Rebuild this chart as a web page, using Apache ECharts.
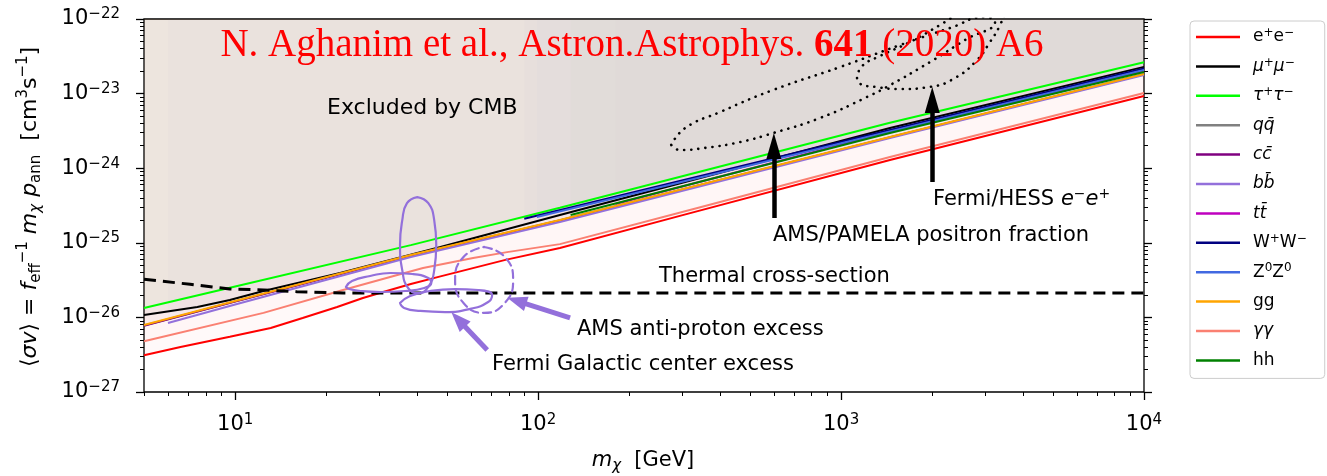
<!DOCTYPE html>
<html>
<head>
<meta charset="utf-8">
<script src="https://cdn.jsdelivr.net/npm/echarts@6/dist/echarts.min.js"></script>
<style>
  html, body { margin: 0; padding: 0; background: #ffffff; }
  #chart { width: 1327px; height: 476px; }
</style>
</head>
<body>
<div id="chart"></div>
<script>
// ---- annihilation channels: dark-matter mass [GeV] and <sigma v> [cm^3 s^-1] ----
const eeMass  = [5, 6.6, 9.6, 13.1, 16.7, 21.7, 26.4, 30.8, 38, 47.6, 78, 118, 300, 1450, 10000];
const eeSv    = [3.1e-27, 4.0e-27, 5.5e-27, 7.2e-27, 9.8e-27, 1.38e-26, 1.82e-26, 2.19e-26, 2.8e-26, 3.55e-26, 5.9e-26, 8.5e-26, 2.35e-25, 1.29e-24, 9.3e-24];
const mumuMass = [5, 7.5, 9.6, 12.4, 22.2, 47.6, 118, 1450, 10000];
const mumuSv   = [1.08e-26, 1.38e-26, 1.71e-26, 2.26e-26, 3.94e-26, 8.8e-26, 2.36e-25, 3.46e-24, 2.28e-23];
const tautauMass = [5, 10, 38, 118, 1450, 10000];
const tautauSv   = [1.34e-26, 2.6e-26, 9.3e-26, 2.95e-25, 4.07e-24, 2.63e-23];
const qqMass = [5, 10, 38, 118, 1450, 10000];
const qqSv   = [7.8e-27, 1.64e-26, 6.8e-26, 2.0e-25, 2.6e-24, 1.82e-23];
const ccMass = [5, 10, 38, 118, 1450, 10000];
const ccSv   = [7.7e-27, 1.63e-26, 6.7e-26, 1.99e-25, 2.59e-24, 1.81e-23];
const bbMass = [6, 10, 38, 118, 1450, 10000];
const bbSv   = [8.4e-27, 1.49e-26, 6.45e-26, 1.9e-25, 2.54e-24, 1.77e-23];
const ttMass = [180, 1450, 10000];
const ttSv   = [3.31e-25, 3.06e-24, 2.0e-23];
const wwMass = [90, 1450, 10000];
const wwSv   = [2.1e-25, 3.25e-24, 2.17e-23];
const zzMass = [99, 1450, 10000];
const zzSv   = [2.22e-25, 3.1e-24, 2.07e-23];
const gluMass = [5, 10, 38, 118, 1450, 10000];
const gluSv   = [7.9e-27, 1.66e-26, 6.85e-26, 2.02e-25, 2.62e-24, 1.83e-23];
const gamMass = [5, 12.4, 22.7, 34.3, 41.7, 61, 79, 118, 343, 1450, 10000];
const gamSv   = [4.8e-27, 1.15e-26, 2.33e-26, 3.7e-26, 4.6e-26, 6.25e-26, 7.5e-26, 9.6e-26, 3.0e-25, 1.41e-24, 1.02e-23];
const hhMass = [128, 1450, 10000];
const hhSv   = [2.36e-25, 2.96e-24, 1.95e-23];

// ---- thermal relic cross-section ----
const thermalMass = [5, 7.1, 9.6, 12.4, 16, 22.7, 40, 100, 1000, 10000];
const thermalSv   = [3.24e-26, 2.78e-26, 2.4e-26, 2.33e-26, 2.21e-26, 2.12e-26, 2.12e-26, 2.12e-26, 2.12e-26, 2.12e-26];

// ---- signal regions [mass, <sigma v>] ----
const amsPamelaContour = [
  [275, 2.05e-24], [306, 3.46e-24], [399, 5.67e-24], [597, 1.12e-23], [992, 2.27e-23],
  [1566, 4.48e-23], [2289, 7.57e-23], [2987, 1.06e-22], [3223, 9.1e-23], [2566, 5.23e-23],
  [1966, 2.65e-23], [1451, 1.3e-23], [1218, 9.0e-24], [852, 4.71e-24], [597, 2.96e-24],
  [464, 2.24e-24], [356, 1.87e-24], [294, 1.75e-24], [275, 2.05e-24]
];
const fermiHessContour = [
  [1129, 1.62e-23], [1173, 2.34e-23], [1345, 3.19e-23], [1689, 4.92e-23], [2122, 8.31e-23],
  [2566, 1.32e-22], [3223, 1.8e-22], [3477, 1.32e-22], [3348, 8.31e-23], [3102, 4.92e-23],
  [2811, 2.82e-23], [2378, 1.62e-23], [1966, 1.23e-23], [1566, 1.15e-23], [1295, 1.23e-23],
  [1155, 1.35e-23], [1129, 1.62e-23]
];
const gceTall = [
  [39.9, 4.1e-25], [43.4, 3.4e-25], [45.4, 2.0e-25], [46.1, 9.4e-26], [45.4, 4.3e-26],
  [43.4, 2.56e-26], [40.2, 2.12e-26], [37.2, 2.48e-26], [35.6, 4.3e-26], [35.0, 9.4e-26],
  [35.6, 2.0e-25], [36.9, 3.4e-25], [39.9, 4.1e-25]
];
const gceWide = [
  [23.2, 2.56e-26], [24.3, 3.08e-26], [27.9, 3.59e-26], [32.5, 3.94e-26], [38.4, 3.82e-26],
  [43.4, 3.37e-26], [44.4, 2.89e-26], [42.1, 2.48e-26], [36.4, 2.26e-26], [30.1, 2.19e-26],
  [25.9, 2.26e-26], [23.8, 2.4e-26], [23.2, 2.56e-26]
];
const gceLow = [
  [35.0, 1.56e-26], [37.8, 1.94e-26], [44.0, 2.26e-26], [53.2, 2.4e-26], [63.4, 2.33e-26],
  [70.5, 2.0e-26], [68.4, 1.61e-26], [59.7, 1.3e-26], [49.3, 1.18e-26], [40.8, 1.22e-26],
  [36.1, 1.34e-26], [35.0, 1.56e-26]
];
const antiprotonContour = [
  [66.3, 8.79e-26], [77.5, 6.51e-26], [82.7, 3.17e-26], [77.5, 1.55e-26], [66.3, 1.15e-26],
  [56.8, 1.55e-26], [53.2, 3.17e-26], [56.8, 6.51e-26], [66.3, 8.79e-26]
];

// ---- arrows: [from, to] in [mass, <sigma v>] ----
const blackArrows = [
  [[600, 2.15e-25], [600, 1.99e-24]],
  [[2000, 6.53e-25], [2000, 8.2e-24]]
];
const purpleArrows = [
  [[127.5, 9.82e-27], [85.0, 1.67e-26]],
  [[67.9, 3.66e-27], [54.5, 9.37e-27]]
];

// ---- axis ticks ----
const xMajorTicks = [10, 100, 1000, 10000];
const yMajorTicks = [1e-27, 1e-26, 1e-25, 1e-24, 1e-23, 1e-22];
const minorMantissas = [2, 3, 4, 5, 6, 7, 8, 9];
const xRange = [5, 10000];
const yRange = [1e-27, 1e-22];

const FONT = "'DejaVu Sans', sans-serif";
const SERIF = "'Liberation Serif', 'DejaVu Serif', serif";

// both axes are logarithmic: values are placed on the axes by their log10
const lg = Math.log10;
function pairs(ms, vs) { return ms.map((m, i) => [lg(m), lg(vs[i])]); }
function logPts(pts) { return pts.map(p => [lg(p[0]), lg(p[1])]); }
function minorTicks(decades, lo, hi) {
  const out = [];
  decades.forEach(d => minorMantissas.forEach(k => {
    const v = k * d;
    if (v >= lo * 0.999 && v <= hi * 1.001) out.push(lg(v));
  }));
  return out;
}
const xMinorTicks = minorTicks([1, 10, 100, 1000], xRange[0], xRange[1]);
const yMinorTicks = minorTicks([1e-27, 1e-26, 1e-25, 1e-24, 1e-23], yRange[0], yRange[1]);

// fill: opacity of the shading each channel lays over the excluded region
const channels = [
  { name: 'ee',     label: '{n|e}{s|+}{n|e}{s|−}',  color: '#ff0000', fill: 0.022, mass: eeMass,     sv: eeSv },
  { name: 'mumu',   label: '{i|μ}{s|+}{i|μ}{s|−}',  color: '#000000', fill: 0.022, mass: mumuMass,   sv: mumuSv },
  { name: 'tautau', label: '{i|τ}{s|+}{i|τ}{s|−}',  color: '#00ff00', fill: 0.022, mass: tautauMass, sv: tautauSv },
  { name: 'qq',     label: '{i|q}{i|q̄}',           color: '#808080', fill: 0.022, mass: qqMass,     sv: qqSv },
  { name: 'cc',     label: '{i|c}{i|c̄}',           color: '#800080', fill: 0.022, mass: ccMass,     sv: ccSv },
  { name: 'bb',     label: '{i|b}{i|b̄}',           color: '#9370db', fill: 0.022, mass: bbMass,     sv: bbSv },
  { name: 'tt',     label: '{i|t}{i|t̄}',           color: '#bf00bf', fill: 0.008, mass: ttMass,     sv: ttSv },
  { name: 'WW',     label: '{n|W}{s|+}{n|W}{s|−}',  color: '#000080', fill: 0.012, mass: wwMass,     sv: wwSv },
  { name: 'ZZ',     label: '{n|Z}{s|0}{n|Z}{s|0}',  color: '#4169e1', fill: 0.014, mass: zzMass,     sv: zzSv },
  { name: 'gg',     label: '{n|gg}',                color: '#ffa500', fill: 0.022, mass: gluMass,    sv: gluSv },
  { name: 'yy',     label: '{i|γγ}',                color: '#fa8072', fill: 0.022, mass: gamMass,    sv: gamSv },
  { name: 'hh',     label: '{n|hh}',                color: '#008000', fill: 0.010, mass: hhMass,     sv: hhSv }
];
const legendLabels = {};
channels.forEach(c => { legendLabels[c.name] = c.label; });

function expLabel(v) {
  const e = Math.round(v);
  return '{b|10}{e|' + (e < 0 ? '−' + (-e) : e) + '}';
}
const tickRich = {
  b: { fontFamily: FONT, fontSize: 21, lineHeight: 24, color: '#000' },
  e: { fontFamily: FONT, fontSize: 15, lineHeight: 15, verticalAlign: 'top', color: '#000' }
};

function logAxis(pos, range, ticks, len, withLabels) {
  return {
    type: 'value', position: pos, min: lg(range[0]), max: lg(range[1]), scale: true,
    axisLine: { show: false, onZero: false },
    splitLine: { show: false },
    axisTick: { show: true, inside: false, length: len, customValues: ticks,
                lineStyle: { color: '#000', width: len > 5 ? 1.3 : 1 } },
    axisLabel: withLabels
      ? { show: true, customValues: ticks, formatter: expLabel, margin: pos === 'bottom' ? 21 : 24, rich: tickRich }
      : { show: false }
  };
}

// each channel fills the region above its curve up to the top of the plot
const series = channels.map(c => ({
  type: 'line', name: c.name, data: pairs(c.mass, c.sv),
  xAxisIndex: 0, yAxisIndex: 0,
  symbol: 'none', showSymbol: false, smooth: false,
  lineStyle: { color: c.color, width: 2 },
  itemStyle: { color: c.color },
  areaStyle: { color: c.color, opacity: c.fill, origin: 'end' },
  silent: true, z: 3
}));

series.push({
  type: 'line', name: 'thermal', data: pairs(thermalMass, thermalSv),
  symbol: 'none', smooth: false,
  lineStyle: { color: '#000', width: 3, type: [12, 7] }, silent: true, z: 4
});

function contour(name, pts, color, type, width) {
  return {
    type: 'line', name: name, data: logPts(pts), symbol: 'none', smooth: 0.5,
    lineStyle: { color: color, width: width, type: type, cap: 'round' },
    silent: true, z: 5
  };
}
series.push(contour('amsPamela', amsPamelaContour, '#000', [0.1, 7], 2.6));
series.push(contour('fermiHess', fermiHessContour, '#000', [0.1, 7], 2.6));
series.push(contour('gceTall', gceTall, '#9370db', 'solid', 2.2));
series.push(contour('gceWide', gceWide, '#9370db', 'solid', 2.2));
series.push(contour('gceLow', gceLow, '#9370db', 'solid', 2.2));
series.push(contour('antiproton', antiprotonContour, '#9370db', [8, 5], 2.2));

function arrowSeries(name, color, width, head, segments) {
  return {
    type: 'line', name: name, data: [], symbol: 'none', silent: true, z: 6,
    markLine: {
      silent: true, animation: false, symbol: ['none', 'triangle'], symbolSize: head,
      label: { show: false }, emphasis: { disabled: true },
      lineStyle: { color: color, width: width, type: 'solid', opacity: 1 },
      data: segments.map(s => [{ coord: [lg(s[0][0]), lg(s[0][1])] }, { coord: [lg(s[1][0]), lg(s[1][1])] }])
    }
  };
}
series.push(arrowSeries('blackArrows', '#000', 4.5, [15, 26], blackArrows));
series.push(arrowSeries('purpleArrows', '#9370db', 5, [15, 20], purpleArrows));

function label(x, y, text, size, rich) {
  return {
    type: 'text', x: x, y: y, silent: true, z: 20,
    style: Object.assign({ text: text, fill: '#000', font: size + 'px ' + FONT, align: 'left', verticalAlign: 'middle' },
                         rich ? { rich: rich } : {})
  };
}
const annRich = {
  n: { fontFamily: FONT, fontSize: 21, lineHeight: 26, fill: '#000' },
  i: { fontFamily: FONT, fontSize: 21, fontStyle: 'italic', lineHeight: 26, fill: '#000' },
  s: { fontFamily: FONT, fontSize: 14, lineHeight: 14, verticalAlign: 'top', fill: '#000' }
};

const option = {
  animation: false,
  backgroundColor: '#ffffff',
  grid: { left: 144, top: 19, width: 1000, height: 373, show: true,
          borderColor: '#000', borderWidth: 1.3, backgroundColor: 'transparent', containLabel: false },
  xAxis: [
    logAxis('bottom', xRange, xMajorTicks.map(lg), 8, true),
    logAxis('bottom', xRange, xMinorTicks, 4, false)
  ],
  yAxis: [
    logAxis('left', yRange, yMajorTicks.map(lg), 8, true),
    logAxis('left', yRange, yMinorTicks, 4, false),
    logAxis('right', yRange, yMajorTicks.map(lg), 8, false),
    logAxis('right', yRange, yMinorTicks, 4, false)
  ],
  legend: {
    data: channels.map(c => c.name),
    orient: 'vertical', left: 1190, top: 21,
    padding: [6, 18, 8, 6],
    itemWidth: 44, itemHeight: 2.5, itemGap: 9.4,
    icon: 'rect',
    backgroundColor: '#ffffff', borderColor: '#cccccc', borderWidth: 1, borderRadius: 4,
    selectedMode: false,
    formatter: name => legendLabels[name],
    textStyle: {
      fontFamily: FONT, fontSize: 17, color: '#000', lineHeight: 20, padding: [0, 0, 0, 8],
      rich: {
        n: { fontFamily: FONT, fontSize: 17, lineHeight: 20, color: '#000' },
        i: { fontFamily: FONT, fontSize: 17, fontStyle: 'italic', lineHeight: 20, color: '#000' },
        s: { fontFamily: FONT, fontSize: 12, lineHeight: 12, verticalAlign: 'top', color: '#000' }
      }
    }
  },
  series: series,
  graphic: [
    label(327, 108, 'Excluded by CMB', 22),
    label(933, 200, '{n|Fermi/HESS }{i|e}{s|−}{i|e}{s|+}', 21, annRich),
    label(773, 236, 'AMS/PAMELA positron fraction', 21),
    label(659, 277, 'Thermal cross-section', 21),
    label(577, 330, 'AMS anti-proton excess', 21),
    label(492, 365, 'Fermi Galactic center excess', 21),
    {
      type: 'text', x: 632, y: 46, silent: true, z: 20,
      style: {
        text: '{r|N. Aghanim et al., Astron.Astrophys. }{b|641}{r| (2020) A6}',
        align: 'center', verticalAlign: 'middle',
        rich: {
          r: { fontFamily: SERIF, fontSize: 39, fill: '#ff0000', lineHeight: 44 },
          b: { fontFamily: SERIF, fontSize: 39, fontWeight: 'bold', fill: '#ff0000', lineHeight: 44 }
        }
      }
    },
    {
      // x-axis title
      type: 'text', x: 643, y: 461, silent: true, z: 20,
      style: {
        text: '{i|m}{sb|χ}{n|  [GeV]}', align: 'center', verticalAlign: 'middle',
        rich: {
          n: { fontFamily: FONT, fontSize: 21, lineHeight: 26, fill: '#000' },
          i: { fontFamily: FONT, fontSize: 21, fontStyle: 'italic', lineHeight: 26, fill: '#000' },
          sb: { fontFamily: FONT, fontSize: 15, fontStyle: 'italic', lineHeight: 15, verticalAlign: 'bottom', fill: '#000' }
        }
      }
    },
    {
      // y-axis title
      type: 'text', x: 30, y: 207, rotation: Math.PI / 2, silent: true, z: 20,
      style: {
        text: '{n|⟨}{i|σv}{n|⟩ = }{i|f}{sb|eff}{sp|−1}{n| }{i|m}{sbi|χ}{n| }{i|p}{sb|ann}{n|  [cm}{sp|3}{n|s}{sp|−1}{n|]}',
        align: 'center', verticalAlign: 'middle',
        rich: {
          n: { fontFamily: FONT, fontSize: 22, lineHeight: 28, fill: '#000' },
          i: { fontFamily: FONT, fontSize: 22, fontStyle: 'italic', lineHeight: 28, fill: '#000' },
          sb: { fontFamily: FONT, fontSize: 15, lineHeight: 15, verticalAlign: 'bottom', fill: '#000' },
          sbi: { fontFamily: FONT, fontSize: 15, fontStyle: 'italic', lineHeight: 15, verticalAlign: 'bottom', fill: '#000' },
          sp: { fontFamily: FONT, fontSize: 15, lineHeight: 15, verticalAlign: 'top', fill: '#000' }
        }
      }
    }
  ]
};

const chart = echarts.init(document.getElementById('chart'), null, { renderer: 'canvas' });
chart.setOption(option);
</script>
</body>
</html>
